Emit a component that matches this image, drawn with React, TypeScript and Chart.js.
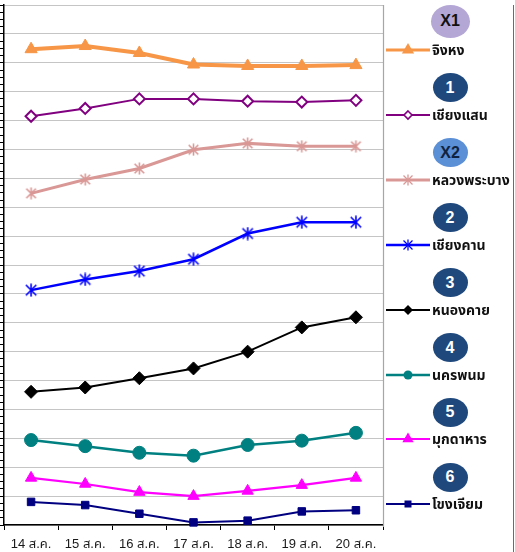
import React, { useEffect, useRef } from "react";
import { Chart, registerables } from "chart.js";

Chart.register(...registerables);

// ---------- data ----------
const categories = ["14 ส.ค.", "15 ส.ค.", "16 ส.ค.", "17 ส.ค.", "18 ส.ค.", "19 ส.ค.", "20 ส.ค."];
const stationNames = ["จิงหง", "เชียงแสน", "หลวงพระบาง", "เชียงคาน", "หนองคาย", "นครพนม", "มุกดาหาร", "โขงเจียม"];
const badgeLabels = ["X1", "1", "X2", "2", "3", "4", "5", "6"];

const jinghong = [16.47, 16.58, 16.34, 15.94, 15.89, 15.89, 15.92];
const chiangSaen = [14.15, 14.42, 14.75, 14.75, 14.67, 14.64, 14.7];
const luangPrabang = [11.48, 11.96, 12.34, 12.99, 13.21, 13.11, 13.11];
const chiangKhan = [8.13, 8.5, 8.79, 9.2, 10.09, 10.48, 10.48];
const nongKhai = [4.61, 4.76, 5.08, 5.42, 6.0, 6.84, 7.19];
const nakhonPhanom = [2.94, 2.73, 2.5, 2.4, 2.77, 2.92, 3.19];
const mukdahan = [1.63, 1.42, 1.14, 1.0, 1.18, 1.38, 1.63];
const khongChiam = [0.8, 0.69, 0.39, 0.09, 0.15, 0.47, 0.51];

const seriesValues = [jinghong, chiangSaen, luangPrabang, chiangKhan, nongKhai, nakhonPhanom, mukdahan, khongChiam];

const yMin = 0;
const yMax = 18;

// ---------- styles ----------
const lineColors = ["#f79646", "#800080", "#d99795", "#0000ff", "#000000", "#008080", "#ff00ff", "#000080"];
const lineWidths = [4, 2, 3, 2.5, 2, 2.5, 2.2, 2];
const markerKinds = ["triangle", "diamondOpen", "asterisk", "asterisk", "diamond", "circle", "triangle", "square"];
const markerRadii = [7, 5.5, 6, 6.5, 6.5, 6.5, 6.5, 5.3];
const badgeColors = ["#b4a7d6", "#1f497d", "#5b8fd6", "#1f497d", "#1f497d", "#1f497d", "#1f497d", "#1f497d"];
const badgeTextColors = ["#111111", "#ffffff", "#10233f", "#ffffff", "#ffffff", "#ffffff", "#ffffff", "#ffffff"];

const FONT = '"Liberation Sans", Arial, "Noto Sans Thai", Tahoma, "Noto Sans", sans-serif';

function makeAsterisk(color: string, size: number, lw: number) {
  const c = document.createElement("canvas");
  c.width = size;
  c.height = size;
  const ctx = c.getContext("2d")!;
  ctx.strokeStyle = color;
  ctx.lineWidth = lw;
  const m = size / 2;
  const r = size / 2 - 0.5;
  const d = r * 0.8;
  ctx.beginPath();
  ctx.moveTo(m, m - r);
  ctx.lineTo(m, m + r);
  ctx.moveTo(m - d, m - d);
  ctx.lineTo(m + d, m + d);
  ctx.moveTo(m + d, m - d);
  ctx.lineTo(m - d, m + d);
  ctx.stroke();
  return c;
}

function pointStyleFor(i: number): any {
  const k = markerKinds[i];
  if (k === "triangle") return "triangle";
  if (k === "diamondOpen" || k === "diamond") return "rectRot";
  if (k === "circle") return "circle";
  if (k === "square") return "rect";
  return makeAsterisk(lineColors[i], Math.round(markerRadii[i] * 2 + 1), 1.6);
}

const borderPlugin = {
  id: "rightBorder",
  afterDraw(chart: any) {
    const { ctx, chartArea } = chart;
    ctx.save();
    ctx.strokeStyle = "#a6a6a6";
    ctx.lineWidth = 1.2;
    ctx.beginPath();
    ctx.moveTo(chartArea.right + 0.5, chartArea.top);
    ctx.lineTo(chartArea.right + 0.5, chartArea.bottom + 2);
    ctx.stroke();
    ctx.restore();
  },
};

function LegendMarker({ i }: { i: number }) {
  const k = markerKinds[i];
  const col = lineColors[i];
  const cx = 22;
  const cy = 8;
  const r = markerRadii[i];
  let shape: any = null;
  if (k === "triangle") {
    const h = r * 0.87;
    shape = <polygon points={`${cx},${cy - r} ${cx + h},${cy + r / 2} ${cx - h},${cy + r / 2}`} fill={col} />;
  } else if (k === "diamondOpen") {
    const s = 4;
    shape = <polygon points={`${cx},${cy - s} ${cx + s},${cy} ${cx},${cy + s} ${cx - s},${cy}`} fill="#fff" stroke={col} strokeWidth={1.6} />;
  } else if (k === "diamond") {
    const s = 5;
    shape = <polygon points={`${cx},${cy - s} ${cx + s},${cy} ${cx},${cy + s} ${cx - s},${cy}`} fill={col} />;
  } else if (k === "circle") {
    shape = <circle cx={cx} cy={cy} r={4.5} fill={col} />;
  } else if (k === "square") {
    shape = <rect x={cx - 3.5} y={cy - 3.5} width={7} height={7} fill={col} />;
  } else {
    const s = 4.5;
    shape = (
      <g stroke={col} strokeWidth={1.3}>
        <line x1={cx} y1={cy - s - 1} x2={cx} y2={cy + s + 1} />
        <line x1={cx - s} y1={cy - s} x2={cx + s} y2={cy + s} />
        <line x1={cx + s} y1={cy - s} x2={cx - s} y2={cy + s} />
      </g>
    );
  }
  return (
    <svg width={44} height={16} style={{ position: "absolute", left: 0, top: -8, overflow: "visible" }}>
      <line x1={0} y1={cy} x2={44} y2={cy} stroke={col} strokeWidth={Math.min(lineWidths[i], 3)} />
      {shape}
    </svg>
  );
}

export default function App() {
  const canvasRef = useRef<HTMLCanvasElement | null>(null);

  useEffect(() => {
    document.body.style.margin = "0";
    const canvas = canvasRef.current;
    if (!canvas) return;
    const datasets = seriesValues.map((vals, i) => ({
      label: stationNames[i],
      data: vals,
      borderColor: lineColors[i],
      backgroundColor: markerKinds[i] === "diamondOpen" ? "#ffffff" : lineColors[i],
      borderWidth: lineWidths[i],
      pointStyle: pointStyleFor(i),
      pointRadius: markerRadii[i],
      pointBorderWidth: markerKinds[i] === "diamondOpen" ? 2 : 1,
      pointBorderColor: lineColors[i],
      pointBackgroundColor: markerKinds[i] === "diamondOpen" ? "#ffffff" : lineColors[i],
      tension: 0,
      fill: false,
      clip: 10,
    }));
    const chart = new Chart(canvas, {
      type: "line",
      data: { labels: categories, datasets },
      options: {
        responsive: false,
        animation: false,
        layout: { autoPadding: false, padding: { top: 5, right: 7, left: 0, bottom: 0 } },
        plugins: { legend: { display: false }, tooltip: { enabled: false } },
        scales: {
          x: {
            type: "category",
            offset: true,
            grid: {
              offset: true,
              drawOnChartArea: false,
              drawTicks: true,
              tickLength: 5,
              tickColor: "#000",
              color: "#000",
            },
            border: { color: "#000", width: 1.5 },
            ticks: {
              color: "#1a1a1a",
              font: { size: 13, family: FONT },
              padding: 7,
              maxRotation: 0,
              autoSkip: false,
            },
            afterFit: (s: any) => {
              s.height = 27;
            },
          },
          y: {
            min: yMin,
            max: yMax,
            ticks: { stepSize: 0.25, display: false, autoSkip: false },
            grid: {
              color: (ctx: any) => (ctx.tick && Number.isInteger(ctx.tick.value) ? "#8a8a8a" : "rgba(0,0,0,0)"),
              tickColor: "#000",
              tickLength: 4,
              drawTicks: true,
              lineWidth: 1,
            },
            border: { color: "#000", width: 1.5, dash: [1, 1] },
            afterFit: (s: any) => {
              s.width = 4;
            },
          },
        },
      } as any,
      plugins: [borderPlugin],
    });
    return () => chart.destroy();
  }, []);

  const rowY = (i: number) => 50 + i * 64.9;

  return (
    <div style={{ position: "relative", width: 515, height: 552, background: "#fff", overflow: "hidden" }}>
      <canvas ref={canvasRef} width={390} height={552} style={{ position: "absolute", left: 0, top: 0, width: 390, height: 552 }} />
      <div style={{ position: "absolute", left: 513, top: 5, width: 1.2, height: 547, background: "#6b6b6b" }} />
      {stationNames.map((name, i) => {
        const y = rowY(i);
        const bw = i === 0 ? 39 : 35;
        const bh = i === 0 ? 33 : 29;
        const by = i === 0 ? y - 29 : y - 27;
        return (
          <React.Fragment key={name}>
            <div
              style={{
                position: "absolute",
                left: 450 - bw / 2,
                top: by - bh / 2,
                width: bw,
                height: bh,
                borderRadius: "50%",
                background: badgeColors[i],
                color: badgeTextColors[i],
                fontFamily: FONT,
                fontWeight: "bold",
                fontSize: 16,
                display: "flex",
                alignItems: "center",
                justifyContent: "center",
              }}
            >
              {badgeLabels[i]}
            </div>
            <div style={{ position: "absolute", left: 386, top: y, width: 44, height: 0 }}>
              <LegendMarker i={i} />
            </div>
            <div
              style={{
                position: "absolute",
                left: 432,
                top: y - 10,
                height: 20,
                lineHeight: "20px",
                fontFamily: FONT,
                fontWeight: "bold",
                fontSize: 14,
                color: "#111",
                whiteSpace: "nowrap",
              }}
            >
              {name}
            </div>
          </React.Fragment>
        );
      })}
    </div>
  );
}
